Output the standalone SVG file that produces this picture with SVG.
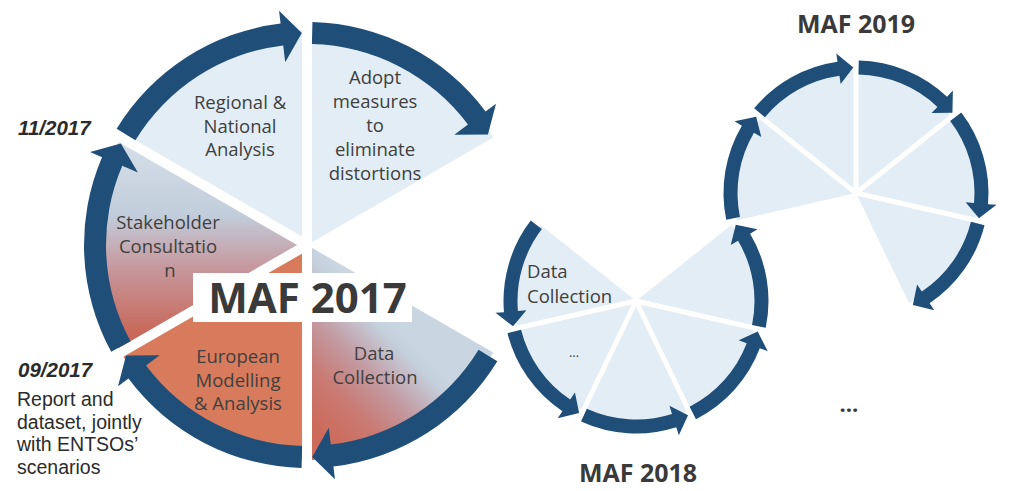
<svg xmlns="http://www.w3.org/2000/svg" width="1024" height="491" viewBox="0 0 1024 491">
<style>
.lb{fill:#e3edf5}
.gap{stroke:#fff;stroke-linecap:butt;fill:none}
.g17{stroke-width:10}
.g18{stroke-width:5}
.arr{fill:#1f4e79}
.lab{font-family:"Open Sans","Liberation Sans",sans-serif;font-size:18.5px;fill:#404040;text-anchor:middle}
.ttl{font-family:"Open Sans","Liberation Sans",sans-serif;font-weight:bold;fill:#3a3a3a;text-anchor:middle}
.note{font-family:"Liberation Sans",Arial,sans-serif;font-size:19.5px;fill:#2b2b2b}
.date{font-style:italic;font-weight:bold;font-size:20.5px}
</style>
<defs>
<linearGradient id="gStake" gradientUnits="userSpaceOnUse" x1="0" y1="140" x2="0" y2="340">
<stop offset="0" stop-color="#d6e0ea"/>
<stop offset="0.375" stop-color="#c2cddb"/>
<stop offset="0.625" stop-color="#c69aa0"/>
<stop offset="0.95" stop-color="#c86a5c"/>
<stop offset="1" stop-color="#c9665a"/>
</linearGradient>
<linearGradient id="gData" gradientUnits="userSpaceOnUse" x1="330" y1="440" x2="420" y2="350">
<stop offset="0" stop-color="#cd6b5b"/>
<stop offset="0.3" stop-color="#c97a73"/>
<stop offset="0.6" stop-color="#c39ca4"/>
<stop offset="0.9" stop-color="#c5d0dd"/>
<stop offset="1" stop-color="#c9d5e1"/>
</linearGradient>
<path id="arr17" d="M222.93,5.45 A223,223 0 0 1 133.58,178.56 L141.37,188.97 L110.45,180.95 L110.22,147.33 L120.40,160.95 A201,201 0 0 0 200.94,4.91 Z"/>
<path id="arr18" d="M132.47,2.77 A132.5,132.5 0 0 1 96.27,91.04 L102.45,96.88 L80.33,96.43 L79.92,75.58 L86.10,81.42 A118.5,118.5 0 0 0 118.47,2.48 Z"/>
<path id="sec" d="M0,0 L122,0 A122,122 0 0 1 76.07,95.38 Z"/>
</defs>
<rect width="1024" height="491" fill="#ffffff"/>

<!-- MAF 2017 nodes -->
<g id="n17-regional">
<path d="M307,245 L120.8,137.5 A215,215 0 0 1 307,30 Z" class="lb"/>
<text class="lab"><tspan x="240" y="109">Regional &amp;</tspan><tspan x="240" y="133">National</tspan><tspan x="240" y="156">Analysis</tspan></text>
</g>
<g id="n17-adopt">
<path d="M307,245 L307,30 A215,215 0 0 1 493.2,137.5 Z" class="lb"/>
<text class="lab"><tspan x="375" y="84">Adopt</tspan><tspan x="375" y="108">measures</tspan><tspan x="375" y="132">to</tspan><tspan x="375" y="156">eliminate</tspan><tspan x="375" y="180">distortions</tspan></text>
</g>
<g id="n17-stakeholder">
<path d="M307,245 L120.8,352.5 A215,215 0 0 1 120.8,137.5 Z" fill="url(#gStake)"/>
<text class="lab"><tspan x="168" y="229">Stakeholder</tspan><tspan x="168" y="253">Consultatio</tspan><tspan x="170" y="277">n</tspan></text>
</g>
<g id="n17-european">
<path d="M307,245 L307,460 A215,215 0 0 1 120.8,352.5 Z" fill="#d87b5c"/>
<text class="lab"><tspan x="238" y="363">European</tspan><tspan x="238" y="387">Modelling</tspan><tspan x="238" y="410">&amp; Analysis</tspan></text>
</g>
<g id="n17-data">
<path d="M307,245 L493.2,352.5 A215,215 0 0 1 307,460 Z" fill="url(#gData)"/>
<text class="lab"><tspan x="374" y="360">Data</tspan><tspan x="375" y="384">Collection</tspan></text>
</g>

<!-- MAF 2018 nodes -->
<g id="n18-data">
<use href="#sec" class="lb" transform="translate(636,301) rotate(-192.86)"/>
<text class="lab" style="text-anchor:start"><tspan x="527" y="278">Data</tspan><tspan x="527" y="303">Collection</tspan></text>
</g>
<g id="n18-dots">
<use href="#sec" class="lb" transform="translate(636,301) rotate(-244.29)"/>
<text class="lab" x="574" y="357" style="font-size:13px">…</text>
</g>
<g id="n18-s3"><use href="#sec" class="lb" transform="translate(636,301) rotate(-295.71)"/></g>
<g id="n18-s4"><use href="#sec" class="lb" transform="translate(636,301) rotate(-347.14)"/></g>
<g id="n18-s5"><use href="#sec" class="lb" transform="translate(636,301) rotate(-38.57)"/></g>

<!-- MAF 2019 nodes -->
<g id="n19-s1"><use href="#sec" class="lb" transform="translate(856,193) rotate(-347.14)"/></g>
<g id="n19-s2"><use href="#sec" class="lb" transform="translate(856,193) rotate(-38.57)"/></g>
<g id="n19-s3"><use href="#sec" class="lb" transform="translate(856,193) rotate(-90)"/></g>
<g id="n19-s4"><use href="#sec" class="lb" transform="translate(856,193) rotate(-141.43)"/></g>
<g id="n19-s5"><use href="#sec" class="lb" transform="translate(856,193) rotate(-192.86)"/></g>

<!-- gaps between segments -->
<g id="gaps" class="gap">
<line x1="0" y1="0" x2="232" y2="0" class="g17" transform="translate(307,245) rotate(-90)"/>
<line x1="0" y1="0" x2="232" y2="0" class="g17" transform="translate(307,245) rotate(-150)"/>
<line x1="0" y1="0" x2="232" y2="0" class="g17" transform="translate(307,245) rotate(-210)"/>
<line x1="0" y1="0" x2="232" y2="0" class="g17" transform="translate(307,245) rotate(-270)"/>
<line x1="0" y1="0" x2="126" y2="0" class="g18" transform="translate(636,301) rotate(-192.86)"/>
<line x1="0" y1="0" x2="126" y2="0" class="g18" transform="translate(636,301) rotate(-244.29)"/>
<line x1="0" y1="0" x2="126" y2="0" class="g18" transform="translate(636,301) rotate(-295.71)"/>
<line x1="0" y1="0" x2="126" y2="0" class="g18" transform="translate(636,301) rotate(-347.14)"/>
<line x1="0" y1="0" x2="126" y2="0" class="g18" transform="translate(856,193) rotate(-347.14)"/>
<line x1="0" y1="0" x2="126" y2="0" class="g18" transform="translate(856,193) rotate(-38.57)"/>
<line x1="0" y1="0" x2="126" y2="0" class="g18" transform="translate(856,193) rotate(-90)"/>
<line x1="0" y1="0" x2="126" y2="0" class="g18" transform="translate(856,193) rotate(-141.43)"/>
</g>

<!-- connectors: circular arrows -->
<g id="connectors" class="arr">
<use href="#arr17" transform="translate(307,245) rotate(210)"/>
<use href="#arr17" transform="translate(307,245) rotate(270)"/>
<use href="#arr17" transform="translate(307,245) rotate(150)"/>
<use href="#arr17" transform="translate(307,245) rotate(90)"/>
<use href="#arr17" transform="translate(307,245) rotate(30)"/>
<use href="#arr18" transform="translate(636,301) rotate(-141.43) scale(1,-1)"/>
<use href="#arr18" transform="translate(636,301) rotate(-192.86) scale(1,-1)"/>
<use href="#arr18" transform="translate(636,301) rotate(-244.29) scale(1,-1)"/>
<use href="#arr18" transform="translate(636,301) rotate(-295.71) scale(1,-1)"/>
<use href="#arr18" transform="translate(636,301) rotate(-347.14) scale(1,-1)"/>
<use href="#arr18" transform="translate(856,193) rotate(167.14)"/>
<use href="#arr18" transform="translate(856,193) rotate(218.57)"/>
<use href="#arr18" transform="translate(856,193) rotate(270)"/>
<use href="#arr18" transform="translate(856,193) rotate(321.43)"/>
<use href="#arr18" transform="translate(856,193) rotate(12.86)"/>
</g>

<!-- titles -->
<g id="t2017">
<rect x="193" y="273" width="219" height="49" fill="#ffffff"/>
<text class="ttl" x="307.5" y="313" style="font-size:42px">MAF 2017</text>
</g>
<text id="t2018" class="ttl" x="638" y="482" style="font-size:25px">MAF 2018</text>
<text id="t2019" class="ttl" x="856" y="33" style="font-size:25px">MAF 2019</text>
<text id="tdots" class="ttl" x="849" y="412" style="font-size:22px">…</text>

<!-- annotations -->
<g id="annotations">
<text class="note date" x="18" y="135">11/2017</text>
<text class="note date" x="18" y="377">09/2017</text>
<text class="note"><tspan x="17" y="406">Report and</tspan><tspan x="17" y="428.5">dataset, jointly</tspan><tspan x="17" y="451">with ENTSOs’</tspan><tspan x="17" y="473.5">scenarios</tspan></text>
</g>
</svg>
